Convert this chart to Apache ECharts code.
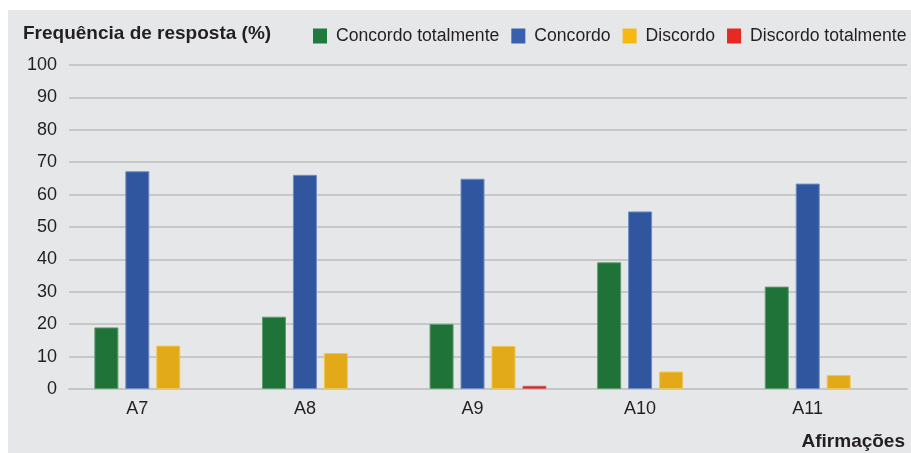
<!DOCTYPE html>
<html>
<head>
<meta charset="utf-8">
<script src="https://cdn.jsdelivr.net/npm/echarts@6/dist/echarts.min.js"></script>
<style>
html,body{margin:0;padding:0;background:#ffffff;}
#bg{position:absolute;left:8px;top:10px;width:903px;height:443px;background:#e6e7e9;}
#chart{position:absolute;left:0;top:0;width:911px;height:453px;}
</style>
</head>
<body>
<div id="bg"></div>
<div id="chart"></div>
<script>
const categories = ['A7', 'A8', 'A9', 'A10', 'A11'];
const concordoTotalmente = [19.0, 22.3, 20.1, 39.1, 31.6];
const concordo = [67.2, 66.1, 64.9, 54.8, 63.4];
const discordo = [13.4, 11.1, 13.3, 5.4, 4.3];
const discordoTotalmente = [null, null, 1.0, null, null];
const yTicks = [0, 10, 20, 30, 40, 50, 60, 70, 80, 90, 100];

const seriesNames = ['Concordo totalmente', 'Concordo', 'Discordo', 'Discordo totalmente'];
const barColors = ['#1f7238', '#2f569e', '#e2aa18', '#c42a2a'];
const borderColors = ['#5f9a6e', '#6f8dc2', '#efc659', '#d86060'];
const legendColors = ['#1e7a3e', '#3a5fad', '#f6b912', '#e52a24'];
const seriesData = [concordoTotalmente, concordo, discordo, discordoTotalmente];

const chart = echarts.init(document.getElementById('chart'), null, {renderer: 'canvas'});
const font = '"Liberation Sans", Arial, sans-serif';

chart.setOption({
  backgroundColor: 'transparent',
  animation: false,
  textStyle: {fontFamily: font},
  title: [
    {text: 'Frequência de resposta (%)', left: 23, top: 24, padding: 0,
     textStyle: {fontFamily: font, fontSize: 19, fontWeight: 'bold', color: '#231f20'}},
    {text: 'Afirmações', right: 6, top: 432, padding: 0,
     textStyle: {fontFamily: font, fontSize: 19, fontWeight: 'bold', color: '#231f20'}}
  ],
  legend: {
    left: 313, top: 27, padding: 0,
    itemWidth: 14, itemHeight: 15, itemGap: 12,
    icon: 'rect',
    textStyle: {fontFamily: font, fontSize: 17.6, color: '#231f20', padding: [0, 0, 0, 4]},
    data: seriesNames.map((n, i) => ({name: n, itemStyle: {color: legendColors[i], borderWidth: 0}}))
  },
  grid: {left: 69, right: 4, top: 65, bottom: 64, containLabel: false},
  xAxis: {
    type: 'category',
    data: categories,
    axisTick: {show: false},
    axisLine: {lineStyle: {color: '#c4c5c7', width: 2}},
    axisLabel: {fontFamily: font, fontSize: 18, color: '#231f20', margin: 11, padding: [0, 31, 0, 0]}
  },
  yAxis: {
    type: 'value',
    min: yTicks[0], max: yTicks[yTicks.length - 1], interval: 10,
    axisLine: {show: false},
    axisTick: {show: false},
    axisLabel: {fontFamily: font, fontSize: 18, color: '#231f20', margin: 12},
    splitLine: {lineStyle: {color: '#c6c7c9', width: 2}}
  },
  series: seriesNames.map((n, i) => ({
    name: n,
    type: 'bar',
    data: seriesData[i],
    barWidth: 24,
    barGap: '29%',
    itemStyle: {color: barColors[i], borderColor: borderColors[i], borderWidth: 1}
  }))
});
</script>
</body>
</html>
